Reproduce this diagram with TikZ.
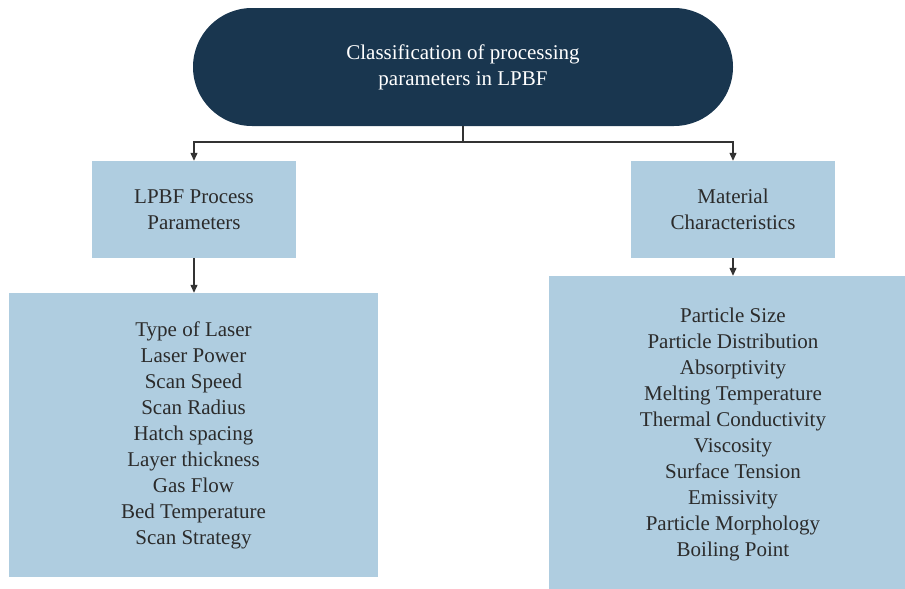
\documentclass[tikz,border=0pt]{standalone}
\usepackage{fontspec}
\setmainfont{Liberation Serif}
\usetikzlibrary{arrows.meta}
\definecolor{navy}{HTML}{19364F}
\definecolor{lightblue}{HTML}{AFCDE0}
\definecolor{ink}{HTML}{2B2B2B}
\definecolor{linecol}{HTML}{333333}
\begin{document}
\begin{tikzpicture}[x=1pt,y=-1pt,
  txt/.style={font=\fontsize{21}{26}\selectfont, text=ink, align=center, inner sep=0pt},
  pill/.style={txt, fill=navy, text=white, rounded corners=59pt, minimum width=540pt, minimum height=118pt},
  box/.style={txt, fill=lightblue},
  link/.style={draw=linecol, line width=1.2pt},
  conn/.style={link, -{Triangle[length=8pt,width=7pt]}}
]
\useasboundingbox (0,0) rectangle (905,589);
\node[pill] (top) at (463,67) {Classification of processing\\parameters in LPBF};
\node[box, minimum width=204pt, minimum height=97pt] (lp) at (194,209.5) {LPBF Process\\Parameters};
\node[box, minimum width=204pt, minimum height=97pt] (mc) at (733,209.5) {Material\\Characteristics};
\node[box, minimum width=369pt, minimum height=284pt] (lpl) at (193.5,435) {Type of Laser\\Laser Power\\Scan Speed\\Scan Radius\\Hatch spacing\\Layer thickness\\Gas Flow\\Bed Temperature\\Scan Strategy};
\node[box, minimum width=356pt, minimum height=313pt] (mcl) at (727,432.5) {};
\node[txt] (mclt) at (733,434) {Particle Size\\Particle Distribution\\Absorptivity\\Melting Temperature\\Thermal Conductivity\\Viscosity\\Surface Tension\\Emissivity\\Particle Morphology\\Boiling Point};
\coordinate (j) at (463,142);
\draw[link] (top.south) -- (j);
\draw[conn] (j) -| (lp.north);
\draw[conn] (j) -| (mc.north);
\draw[conn] (lp.south) -- (lpl.north -| lp.south);
\draw[conn] (mc.south) -- (mcl.north -| mc.south);
\end{tikzpicture}
\end{document}
